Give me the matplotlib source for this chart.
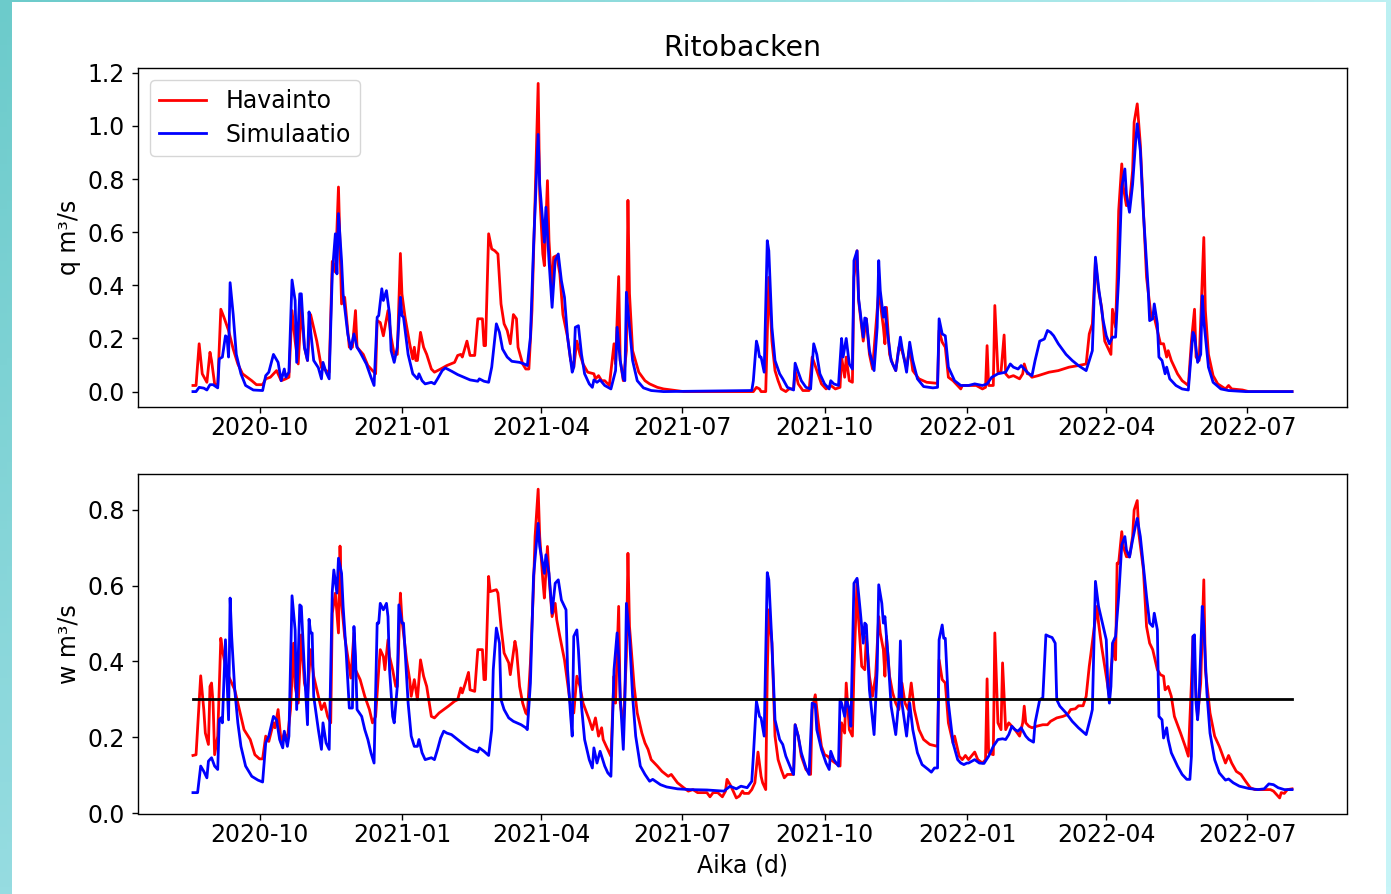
import numpy as np
import matplotlib
matplotlib.use("Agg")
import matplotlib.pyplot as plt
import matplotlib.dates as mdates
from matplotlib.patches import Rectangle

# Daily series, indexed by day number from the first observation day
START = np.datetime64("2020-08-19")

# Discharge q (m3/s): observed
q_obs_day = [0, 2, 4, 6, 9, 11, 12, 14, 16, 18, 20, 23, 26, 29, 32, 38, 41, 45, 47, 50, 54, 57, 60, 62, 64, 66, 68, 70,
             72, 74, 76, 80, 83, 86, 88, 90, 92, 94, 96, 98, 101, 103, 105, 106, 110, 113, 116, 118, 119, 121, 123, 126,
             128, 130, 132, 134, 135, 137, 140, 142, 143, 144, 145, 147, 149, 151, 154, 156, 160, 164, 169, 171, 173,
             174, 177, 179, 182, 184, 187, 188, 189, 191, 193, 195, 197, 199, 201, 203, 205, 207, 209, 210, 213, 215,
             217, 219, 221, 223, 224, 226, 227, 229, 230, 232, 233, 235, 237, 239, 242, 244, 246, 248, 250, 252, 255,
             259, 260, 262, 264, 266, 269, 272, 273, 275, 276, 278, 280, 281, 282, 284, 288, 292, 295, 300, 304, 309,
             317, 362, 364, 366, 367, 370, 372, 374, 376, 378, 380, 383, 385, 388, 389, 391, 394, 398, 400, 403, 406,
             409, 412, 415, 418, 419, 421, 422, 424, 426, 427, 429, 430, 433, 435, 437, 439, 441, 443, 446, 447, 448,
             450, 452, 454, 456, 458, 461, 463, 465, 469, 474, 481, 482, 484, 486, 488, 491, 496, 497, 501, 506, 510,
             512, 513, 514, 517, 518, 520, 522, 524, 525, 527, 530, 534, 536, 537, 539, 540, 542, 546, 553, 559, 566,
             572, 577, 579, 581, 583, 585, 587, 589, 593, 594, 596, 597, 598, 600, 601, 603, 605, 607, 608, 610, 612,
             614, 616, 619, 621, 623, 625, 627, 629, 630, 632, 636, 639, 643, 645, 647, 648, 650, 651, 653, 654, 656,
             659, 662, 667, 669, 671, 678, 682, 710]
q_obs = [0.023, 0.023, 0.18, 0.067, 0.035, 0.148, 0.117, 0.029, 0.023, 0.31, 0.28, 0.23, 0.16, 0.104, 0.067, 0.041,
         0.026, 0.026, 0.048, 0.054, 0.079, 0.041, 0.048, 0.054, 0.305, 0.19, 0.104, 0.317, 0.167, 0.117, 0.29, 0.19,
         0.09, 0.079, 0.073, 0.49, 0.45, 0.77, 0.33, 0.355, 0.167, 0.167, 0.305, 0.167, 0.14, 0.098, 0.079, 0.067,
         0.267, 0.26, 0.21, 0.305, 0.205, 0.14, 0.14, 0.52, 0.368, 0.28, 0.18, 0.123, 0.167, 0.117, 0.117, 0.223,
         0.167, 0.14, 0.085, 0.073, 0.085, 0.098, 0.11, 0.136, 0.14, 0.13, 0.19, 0.136, 0.136, 0.274, 0.274, 0.173,
         0.173, 0.594, 0.537, 0.53, 0.518, 0.33, 0.255, 0.23, 0.18, 0.29, 0.274, 0.167, 0.104, 0.085, 0.085, 0.305,
         0.72, 1.16, 0.744, 0.518, 0.474, 0.794, 0.568, 0.368, 0.506, 0.512, 0.443, 0.29, 0.205, 0.117, 0.092, 0.19,
         0.14, 0.104, 0.073, 0.067, 0.048, 0.06, 0.041, 0.041, 0.023, 0.18, 0.104, 0.433, 0.117, 0.041, 0.154, 0.72,
         0.368, 0.154, 0.073, 0.041, 0.029, 0.016, 0.01, 0.006, 0.0, 0.0, 0.016, 0.01, 0.0, 0.0, 0.43, 0.19, 0.079,
         0.041, 0.01, 0.0, 0.01, 0.01, 0.079, 0.029, 0.004, 0.004, 0.13, 0.079, 0.029, 0.01, 0.023, 0.01, 0.016, 0.13,
         0.054, 0.13, 0.041, 0.035, 0.43, 0.53, 0.343, 0.19, 0.274, 0.14, 0.085, 0.23, 0.38, 0.242, 0.18, 0.317, 0.14,
         0.104, 0.079, 0.167, 0.154, 0.092, 0.167, 0.079, 0.048, 0.035, 0.031, 0.23, 0.186, 0.167, 0.054, 0.041, 0.01,
         0.023, 0.023, 0.023, 0.01, 0.016, 0.173, 0.023, 0.023, 0.324, 0.073, 0.073, 0.213, 0.067, 0.054, 0.06, 0.048,
         0.067, 0.104, 0.067, 0.067, 0.054, 0.06, 0.073, 0.079, 0.092, 0.098, 0.104, 0.217, 0.255, 0.493, 0.38, 0.317,
         0.19, 0.14, 0.31, 0.242, 0.43, 0.68, 0.857, 0.77, 0.70, 0.706, 0.832, 1.014, 1.083, 0.93, 0.68, 0.43, 0.28,
         0.28, 0.23, 0.18, 0.18, 0.13, 0.154, 0.117, 0.067, 0.041, 0.023, 0.19, 0.31, 0.13, 0.117, 0.267, 0.58, 0.305,
         0.14, 0.06, 0.029, 0.01, 0.023, 0.01, 0.006, 0.0, 0.0]

# Discharge q (m3/s): simulated
q_sim_day = [0, 2, 4, 7, 9, 11, 13, 16, 17, 19, 21, 22, 23, 24, 26, 28, 31, 34, 39, 45, 47, 49, 52, 55, 57, 59, 60, 62,
             64, 66, 67, 69, 70, 72, 74, 75, 76, 78, 81, 83, 84, 86, 88, 90, 92, 93, 94, 96, 97, 100, 102, 104, 106,
             108, 112, 115, 117, 119, 120, 122, 123, 125, 127, 128, 130, 132, 134, 135, 136, 139, 142, 145, 146, 148,
             150, 154, 156, 158, 161, 163, 167, 171, 175, 179, 184, 185, 188, 191, 193, 196, 198, 200, 203, 206, 211,
             214, 216, 218, 220, 223, 224, 227, 228, 230, 232, 234, 235, 236, 238, 240, 242, 245, 246, 247, 249, 251,
             253, 256, 258, 259, 261, 263, 266, 270, 273, 274, 276, 278, 279, 280, 282, 284, 287, 291, 296, 304, 361,
             362, 364, 365, 366, 367, 369, 371, 372, 374, 376, 379, 381, 384, 388, 389, 391, 393, 396, 399, 401, 403,
             405, 408, 411, 412, 414, 417, 419, 420, 422, 424, 426, 427, 429, 430, 433, 434, 435, 437, 440, 442, 443,
             444, 446, 447, 449, 451, 454, 457, 458, 461, 463, 465, 468, 472, 478, 481, 482, 484, 486, 488, 492, 496,
             501, 505, 510, 513, 516, 520, 525, 528, 530, 533, 535, 538, 540, 542, 544, 547, 550, 552, 554, 556, 559,
             564, 568, 572, 577, 581, 583, 585, 588, 590, 592, 594, 596, 598, 600, 602, 603, 605, 607, 609, 610, 612,
             614, 617, 618, 620, 621, 623, 624, 626, 628, 629, 631, 635, 639, 643, 644, 646, 647, 649, 651, 652, 653,
             656, 659, 664, 669, 680, 710]
q_sim = [0.0, 0.0, 0.016, 0.013, 0.006, 0.026, 0.026, 0.014, 0.123, 0.13, 0.21, 0.205, 0.13, 0.41, 0.29, 0.14, 0.067,
         0.023, 0.006, 0.004, 0.06, 0.073, 0.14, 0.11, 0.041, 0.085, 0.054, 0.073, 0.42, 0.343, 0.11, 0.368, 0.368,
         0.167, 0.117, 0.30, 0.23, 0.117, 0.09, 0.048, 0.11, 0.073, 0.048, 0.443, 0.594, 0.443, 0.67, 0.493, 0.368,
         0.217, 0.16, 0.217, 0.167, 0.148, 0.104, 0.054, 0.023, 0.28, 0.286, 0.387, 0.343, 0.38, 0.29, 0.154, 0.11,
         0.167, 0.355, 0.286, 0.28, 0.14, 0.067, 0.048, 0.067, 0.041, 0.029, 0.035, 0.029, 0.048, 0.079, 0.089, 0.077,
         0.064, 0.054, 0.044, 0.039, 0.048, 0.039, 0.035, 0.092, 0.255, 0.223, 0.16, 0.13, 0.114, 0.11, 0.104, 0.098,
         0.205, 0.543, 0.968, 0.78, 0.562, 0.694, 0.493, 0.317, 0.493, 0.506, 0.518, 0.418, 0.355, 0.205, 0.073,
         0.092, 0.242, 0.248, 0.14, 0.067, 0.029, 0.016, 0.044, 0.035, 0.044, 0.023, 0.01, 0.079, 0.242, 0.117, 0.048,
         0.041, 0.374, 0.242, 0.117, 0.041, 0.014, 0.004, 0.0, 0.004, 0.041, 0.19, 0.167, 0.13, 0.13, 0.073, 0.568,
         0.53, 0.242, 0.117, 0.067, 0.048, 0.016, 0.006, 0.107, 0.073, 0.041, 0.016, 0.01, 0.18, 0.14, 0.067, 0.029,
         0.01, 0.041, 0.029, 0.023, 0.2, 0.13, 0.2, 0.104, 0.085, 0.493, 0.53, 0.35, 0.205, 0.277, 0.274, 0.154, 0.079,
         0.242, 0.493, 0.38, 0.28, 0.317, 0.205, 0.117, 0.079, 0.205, 0.167, 0.073, 0.186, 0.117, 0.048, 0.019, 0.014,
         0.016, 0.274, 0.217, 0.21, 0.092, 0.041, 0.023, 0.023, 0.029, 0.023, 0.029, 0.054, 0.067, 0.073, 0.104, 0.092,
         0.085, 0.098, 0.079, 0.067, 0.06, 0.117, 0.19, 0.198, 0.23, 0.223, 0.21, 0.18, 0.14, 0.117, 0.098, 0.079,
         0.154, 0.506, 0.393, 0.267, 0.21, 0.18, 0.205, 0.205, 0.43, 0.77, 0.838, 0.744, 0.675, 0.78, 0.945, 1.008,
         0.907, 0.67, 0.393, 0.267, 0.274, 0.33, 0.255, 0.13, 0.117, 0.067, 0.092, 0.048, 0.023, 0.01, 0.006, 0.079,
         0.223, 0.21, 0.11, 0.14, 0.361, 0.267, 0.092, 0.035, 0.01, 0.004, 0.0, 0.0]

# Transformed discharge w (m3/s): observed
w_obs_day = [0, 2, 5, 7, 8, 10, 11, 12, 13, 14, 16, 18, 19, 21, 23, 25, 27, 29, 31, 33, 37, 40, 43, 45, 47, 49, 52,
             53, 55, 57, 59, 61, 63, 65, 66, 68, 70, 72, 74, 76, 78, 81, 83, 85, 87, 89, 90, 92, 94, 95, 96, 98, 100,
             102, 104, 105, 108, 111, 114, 116, 118, 120, 121, 123, 124, 126, 127, 129, 131, 132, 134, 135, 138, 140,
             141, 143, 145, 147, 149, 151, 154, 156, 159, 162, 165, 169, 171, 173, 174, 176, 178, 179, 182, 184, 187,
             188, 189, 191, 192, 196, 197, 199, 201, 204, 205, 208, 209, 211, 213, 215, 216, 218, 220, 221, 223, 224,
             226, 227, 229, 230, 232, 234, 235, 237, 240, 242, 244, 246, 248, 250, 252, 256, 258, 260, 262, 264, 265,
             267, 270, 272, 273, 275, 276, 278, 280, 281, 282, 285, 287, 290, 292, 294, 296, 300, 303, 307, 309, 313,
             317, 320, 323, 326, 332, 334, 336, 339, 342, 344, 345, 347, 349, 351, 353, 355, 356, 359, 361, 363, 365,
             367, 368, 370, 371, 372, 374, 376, 378, 380, 382, 384, 388, 389, 391, 393, 396, 399, 400, 402, 404, 406,
             408, 410, 412, 415, 418, 419, 421, 422, 424, 426, 427, 429, 430, 432, 434, 435, 437, 439, 441, 443, 444,
             446, 447, 448, 450, 452, 454, 456, 458, 460, 462, 464, 466, 469, 472, 476, 481, 482, 484, 486, 488, 491,
             492, 495, 497, 499, 501, 505, 507, 510, 512, 513, 514, 517, 518, 520, 522, 523, 525, 527, 529, 531, 534,
             536, 537, 538, 540, 542, 545, 549, 552, 554, 558, 562, 565, 567, 570, 572, 575, 577, 579, 580, 582, 584,
             585, 587, 589, 592, 593, 595, 596, 597, 598, 600, 601, 603, 605, 607, 608, 610, 611, 614, 616, 618, 620,
             623, 625, 627, 628, 630, 632, 634, 638, 641, 643, 645, 646, 648, 649, 651, 653, 654, 657, 660, 663, 667,
             669, 671, 674, 677, 680, 683, 686, 692, 696, 698, 700, 702, 703, 705, 707, 710]
w_obs = [0.152, 0.154, 0.362, 0.273, 0.211, 0.181, 0.334, 0.343, 0.29, 0.154, 0.203, 0.461, 0.431, 0.387, 0.361,
         0.343, 0.325, 0.29, 0.255, 0.22, 0.194, 0.154, 0.143, 0.143, 0.203, 0.189, 0.238, 0.225, 0.273, 0.185, 0.211,
         0.194, 0.273, 0.448, 0.334, 0.29, 0.47, 0.343, 0.308, 0.431, 0.361, 0.308, 0.273, 0.29, 0.255, 0.238, 0.527,
         0.58, 0.475, 0.704, 0.553, 0.466, 0.413, 0.356, 0.475, 0.378, 0.352, 0.308, 0.273, 0.238, 0.255, 0.378,
         0.431, 0.413, 0.378, 0.457, 0.413, 0.378, 0.334, 0.334, 0.58, 0.51, 0.404, 0.352, 0.308, 0.352, 0.299, 0.404,
         0.361, 0.334, 0.255, 0.251, 0.264, 0.273, 0.282, 0.295, 0.299, 0.33, 0.317, 0.343, 0.371, 0.325, 0.321,
         0.431, 0.431, 0.352, 0.352, 0.624, 0.584, 0.589, 0.58, 0.492, 0.422, 0.396, 0.365, 0.453, 0.431, 0.334, 0.29,
         0.264, 0.26, 0.396, 0.597, 0.729, 0.854, 0.729, 0.615, 0.567, 0.703, 0.624, 0.518, 0.553, 0.51, 0.466, 0.404,
         0.343, 0.282, 0.264, 0.361, 0.334, 0.29, 0.246, 0.22, 0.251, 0.203, 0.225, 0.194, 0.176, 0.15, 0.361, 0.29,
         0.545, 0.29, 0.229, 0.413, 0.685, 0.492, 0.334, 0.264, 0.211, 0.185, 0.168, 0.141, 0.124, 0.11, 0.097, 0.102,
         0.08, 0.067, 0.058, 0.062, 0.054, 0.054, 0.043, 0.054, 0.054, 0.043, 0.058, 0.089, 0.075, 0.058, 0.04, 0.045,
         0.058, 0.052, 0.052, 0.062, 0.08, 0.161, 0.097, 0.08, 0.062, 0.369, 0.536, 0.448, 0.203, 0.141, 0.115, 0.093,
         0.102, 0.102, 0.233, 0.203, 0.15, 0.115, 0.102, 0.273, 0.312, 0.238, 0.176, 0.154, 0.15, 0.141, 0.132, 0.124,
         0.238, 0.211, 0.343, 0.22, 0.203, 0.378, 0.615, 0.51, 0.387, 0.378, 0.466, 0.361, 0.308, 0.361, 0.518, 0.475,
         0.431, 0.361, 0.466, 0.361, 0.317, 0.29, 0.273, 0.343, 0.29, 0.273, 0.343, 0.273, 0.22, 0.194, 0.181, 0.176,
         0.404, 0.352, 0.343, 0.238, 0.185, 0.203, 0.15, 0.141, 0.152, 0.141, 0.161, 0.141, 0.132, 0.141, 0.354,
         0.159, 0.154, 0.475, 0.238, 0.22, 0.396, 0.22, 0.238, 0.229, 0.22, 0.203, 0.238, 0.282, 0.238, 0.229, 0.225,
         0.229, 0.233, 0.233, 0.242, 0.251, 0.255, 0.26, 0.273, 0.275, 0.283, 0.283, 0.308, 0.387, 0.418, 0.483, 0.545,
         0.501, 0.439, 0.387, 0.308, 0.378, 0.448, 0.404, 0.659, 0.659, 0.742, 0.703, 0.676, 0.676, 0.729, 0.799,
         0.824, 0.738, 0.641, 0.492, 0.448, 0.431, 0.378, 0.365, 0.361, 0.325, 0.334, 0.308, 0.255, 0.211, 0.176,
         0.15, 0.343, 0.466, 0.308, 0.255, 0.343, 0.615, 0.378, 0.264, 0.203, 0.176, 0.132, 0.152, 0.132, 0.11, 0.102,
         0.084, 0.067, 0.062, 0.062, 0.062, 0.058, 0.049, 0.04, 0.054, 0.052, 0.062, 0.064]

# Transformed discharge w (m3/s): simulated
w_sim_day = [0, 3, 5, 7, 9, 10, 12, 14, 16, 17, 18, 19, 21, 22, 23, 24, 25, 27, 29, 31, 34, 38, 42, 45, 47, 49, 52,
             54, 56, 58, 59, 61, 62, 64, 66, 67, 69, 70, 72, 74, 75, 76, 77, 78, 81, 83, 84, 86, 88, 90, 91, 93, 94, 96,
             97, 99, 101, 103, 104, 105, 106, 109, 111, 113, 115, 117, 119, 120, 121, 123, 125, 126, 127, 129, 130, 132,
             133, 135, 136, 139, 141, 143, 145, 146, 148, 150, 154, 156, 158, 160, 162, 164, 167, 171, 175, 179, 184,
             185, 188, 191, 193, 194, 196, 198, 199, 201, 204, 207, 212, 215, 216, 218, 220, 223, 224, 227, 228, 230,
             232, 234, 236, 238, 241, 242, 244, 245, 246, 248, 249, 251, 253, 256, 258, 259, 261, 263, 266, 268, 270,
             272, 274, 275, 276, 278, 279, 280, 282, 284, 286, 289, 292, 295, 297, 302, 306, 313, 321, 332, 343, 347,
             351, 354, 358, 361, 362, 364, 366, 367, 369, 371, 372, 374, 376, 379, 381, 383, 387, 388, 389, 391, 393,
             396, 398, 400, 402, 403, 406, 409, 411, 412, 414, 417, 418, 419, 421, 422, 424, 425, 427, 429, 431, 433,
             434, 435, 437, 440, 442, 443, 445, 446, 447, 449, 451, 454, 456, 457, 458, 461, 463, 465, 468, 471, 475,
             477, 479, 481, 482, 484, 485, 486, 488, 491, 494, 496, 498, 500, 501, 505, 508, 511, 514, 517, 520, 523,
             525, 527, 529, 531, 533, 535, 538, 540, 543, 544, 547, 549, 551, 553, 555, 557, 558, 560, 564, 568, 572,
             577, 580, 581, 583, 585, 588, 590, 591, 592, 593, 594, 596, 598, 600, 602, 603, 605, 607, 609, 610, 612,
             614, 616, 618, 620, 621, 623, 624, 626, 627, 629, 630, 632, 636, 639, 642, 644, 645, 646, 647, 648, 649,
             650, 652, 653, 655, 657, 660, 663, 667, 669, 672, 676, 682, 688, 692, 695, 698, 701, 705, 710]
w_sim = [0.054, 0.054, 0.124, 0.11, 0.093, 0.137, 0.146, 0.124, 0.115, 0.246, 0.251, 0.238, 0.457, 0.352, 0.246,
         0.567, 0.466, 0.325, 0.238, 0.176, 0.124, 0.097, 0.087, 0.082, 0.185, 0.203, 0.255, 0.246, 0.194, 0.172,
         0.216, 0.176, 0.203, 0.573, 0.483, 0.273, 0.549, 0.545, 0.378, 0.233, 0.511, 0.475, 0.475, 0.308, 0.22,
         0.168, 0.238, 0.185, 0.168, 0.584, 0.641, 0.58, 0.672, 0.632, 0.545, 0.422, 0.277, 0.277, 0.492, 0.413,
         0.273, 0.255, 0.22, 0.194, 0.159, 0.132, 0.501, 0.501, 0.553, 0.536, 0.553, 0.518, 0.378, 0.255, 0.238,
         0.334, 0.549, 0.501, 0.501, 0.29, 0.203, 0.176, 0.176, 0.194, 0.159, 0.141, 0.146, 0.141, 0.168, 0.198,
         0.216, 0.211, 0.207, 0.194, 0.181, 0.169, 0.161, 0.172, 0.163, 0.152, 0.22, 0.378, 0.488, 0.448, 0.299,
         0.273, 0.251, 0.242, 0.233, 0.225, 0.22, 0.343, 0.624, 0.764, 0.703, 0.632, 0.681, 0.632, 0.527, 0.606,
         0.615, 0.562, 0.536, 0.378, 0.255, 0.203, 0.466, 0.483, 0.431, 0.282, 0.194, 0.141, 0.119, 0.172, 0.132,
         0.163, 0.124, 0.106, 0.097, 0.378, 0.475, 0.413, 0.308, 0.168, 0.29, 0.553, 0.466, 0.308, 0.203, 0.124,
         0.102, 0.084, 0.089, 0.075, 0.069, 0.064, 0.062, 0.061, 0.058, 0.071, 0.064, 0.071, 0.067, 0.084, 0.15,
         0.295, 0.255, 0.251, 0.203, 0.634, 0.615, 0.448, 0.246, 0.194, 0.181, 0.15, 0.11, 0.102, 0.233, 0.203,
         0.159, 0.119, 0.102, 0.29, 0.286, 0.22, 0.168, 0.132, 0.115, 0.163, 0.141, 0.124, 0.299, 0.29, 0.255, 0.301,
         0.273, 0.229, 0.606, 0.619, 0.536, 0.448, 0.501, 0.496, 0.325, 0.207, 0.378, 0.602, 0.553, 0.501, 0.518,
         0.413, 0.282, 0.207, 0.299, 0.454, 0.29, 0.203, 0.29, 0.22, 0.159, 0.128, 0.115, 0.108, 0.119, 0.119, 0.457,
         0.496, 0.461, 0.461, 0.29, 0.185, 0.141, 0.132, 0.128, 0.132, 0.132, 0.141, 0.132, 0.131, 0.15, 0.176, 0.194,
         0.196, 0.194, 0.207, 0.229, 0.22, 0.216, 0.225, 0.203, 0.194, 0.187, 0.238, 0.299, 0.304, 0.47, 0.466, 0.463,
         0.448, 0.299, 0.282, 0.264, 0.242, 0.225, 0.207, 0.255, 0.273, 0.611, 0.545, 0.492, 0.457, 0.334, 0.29, 0.334,
         0.448, 0.466, 0.571, 0.707, 0.729, 0.694, 0.675, 0.72, 0.76, 0.777, 0.729, 0.65, 0.571, 0.501, 0.492, 0.527,
         0.483, 0.255, 0.246, 0.198, 0.225, 0.194, 0.159, 0.124, 0.102, 0.089, 0.089, 0.15, 0.466, 0.47, 0.29, 0.246,
         0.308, 0.545, 0.492, 0.317, 0.211, 0.141, 0.106, 0.087, 0.09, 0.08, 0.071, 0.065, 0.062, 0.064, 0.077, 0.075,
         0.067, 0.062, 0.062]

# Reference level drawn in the lower panel and the period it spans
w_threshold = 0.3
period_days = [0, 710]

TITLE = "Ritobacken"
LABELS = ["Havainto", "Simulaatio"]


def to_dates(days):
    return START + np.asarray(days).astype("timedelta64[D]")


W, H = 1391, 894
fig = plt.figure(figsize=(W / 100, H / 100), dpi=100)

# Page background: soft teal gradient behind a white card
bg = fig.add_axes([0, 0, 1, 1], zorder=-5)
tl = np.array([0x6c, 0xcb, 0xcb]) / 255
bl = np.array([0x96, 0xdc, 0xe1]) / 255
tr = np.array([0xbc, 0xf0, 0xf2]) / 255
br = np.array([0xc8, 0xf5, 0xf8]) / 255
gx = np.linspace(0, 1, 200)[None, :, None]
gy = np.linspace(0, 1, 120)[:, None, None]
grad = (1 - gy) * ((1 - gx) * tl + gx * tr) + gy * ((1 - gx) * bl + gx * br)
bg.imshow(grad, extent=[0, 1, 0, 1], aspect="auto", origin="upper")
bg.add_patch(Rectangle((12 / W, 0), (1386 - 12) / W, 1 - 2 / H, facecolor="white", edgecolor="none"))
bg.set_xlim(0, 1)
bg.set_ylim(0, 1)
bg.axis("off")

FS = 17
LW = 2.0

left = 138 / W
width = (1347 - 138) / W
ax1 = fig.add_axes([left, 1 - 407 / H, width, (407 - 68) / H])
ax2 = fig.add_axes([left, 1 - 813.5 / H, width, (813.5 - 474) / H])

ax1.plot(to_dates(q_obs_day), q_obs, color="red", lw=LW, label=LABELS[0])
ax1.plot(to_dates(q_sim_day), q_sim, color="blue", lw=LW, label=LABELS[1])

ax2.plot(to_dates(w_obs_day), w_obs, color="red", lw=LW)
ax2.plot(to_dates(w_sim_day), w_sim, color="blue", lw=LW)
ax2.plot(to_dates(period_days), [w_threshold, w_threshold], color="black", lw=LW)

ax1.set_title(TITLE, fontsize=FS * 1.2, pad=9)
ax1.set_ylabel("q m³/s", fontsize=FS, labelpad=5)
ax2.set_ylabel("w m³/s", fontsize=FS, labelpad=5)
ax2.set_xlabel("Aika (d)", fontsize=FS, labelpad=5)

ax1.set_ylim(-0.058, 1.218)
ax2.set_ylim(-0.001, 0.894)
ax1.set_yticks(np.arange(0, 1.21, 0.2))
ax2.set_yticks(np.arange(0, 0.81, 0.2))

for ax in (ax1, ax2):
    ax.xaxis.set_major_locator(mdates.MonthLocator(bymonth=[1, 4, 7, 10]))
    ax.xaxis.set_major_formatter(mdates.DateFormatter("%Y-%m"))
    ax.yaxis.set_major_formatter(matplotlib.ticker.FormatStrFormatter("%.1f"))
    ax.tick_params(labelsize=FS, length=4.3, width=1.0)
    ax.tick_params(axis="x", pad=2.5)
    ax.tick_params(axis="y", pad=5)
    for sp in ax.spines.values():
        sp.set_linewidth(1.0)

ax1.legend(loc="upper left", fontsize=FS, handlelength=2.0, labelspacing=0.4)

fig.savefig("out.png", dpi=100)
